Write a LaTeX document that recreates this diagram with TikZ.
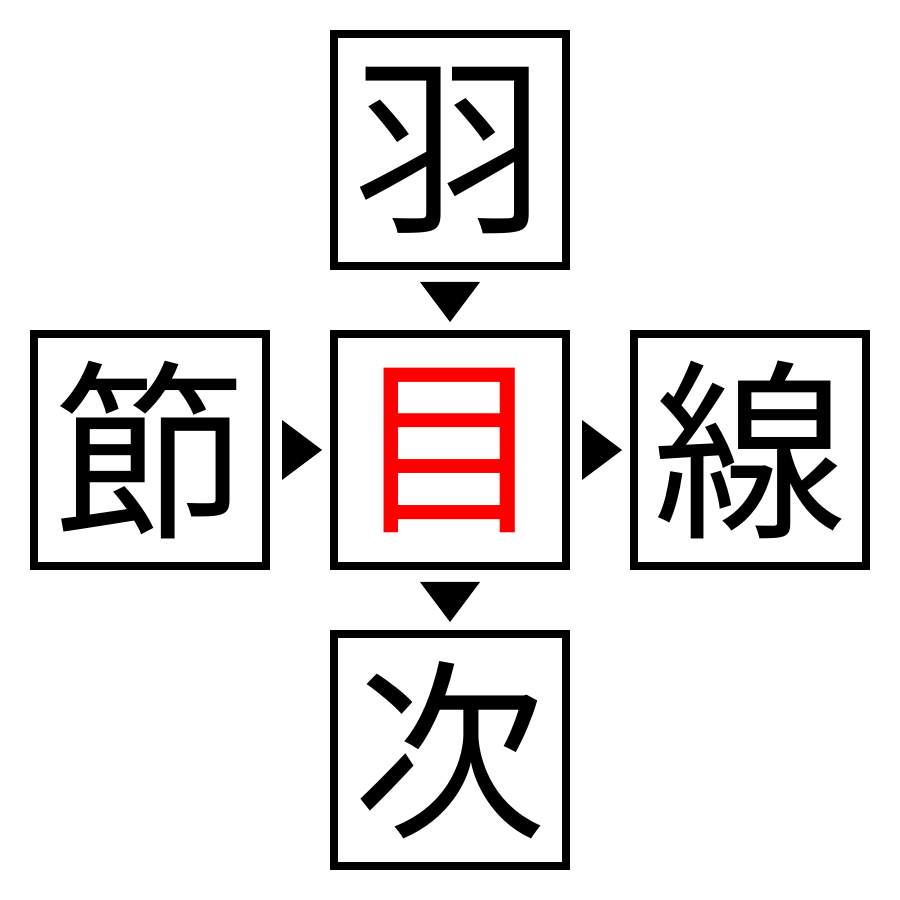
\documentclass[tikz,border=0pt]{standalone}
\usepackage{fontspec}
\newfontfamily\cjk{Noto Sans CJK JP}
\begin{document}
\begin{tikzpicture}
\useasboundingbox (0,0) rectangle (9,9);
\tikzset{kbox/.style={draw=black,line width=0.08cm,minimum size=2.32cm,inner sep=0pt,font=\cjk\fontsize{55}{55}\selectfont},
tri/.style={fill=black}}
\node[kbox] (t) at (4.5,7.5) {羽};
\node[kbox,text=red] (c) at (4.5,4.5) {目};
\node[kbox] (l) at (1.5,4.5) {節};
\node[kbox] (r) at (7.5,4.5) {線};
\node[kbox] (b) at (4.5,1.5) {次};
\fill[tri] (4.2,6.18) -- (4.8,6.18) -- (4.5,5.78) -- cycle;
\fill[tri] (4.2,3.18) -- (4.8,3.18) -- (4.5,2.78) -- cycle;
\fill[tri] (2.82,4.8) -- (2.82,4.2) -- (3.22,4.5) -- cycle;
\fill[tri] (5.82,4.8) -- (5.82,4.2) -- (6.22,4.5) -- cycle;
\end{tikzpicture}
\end{document}
